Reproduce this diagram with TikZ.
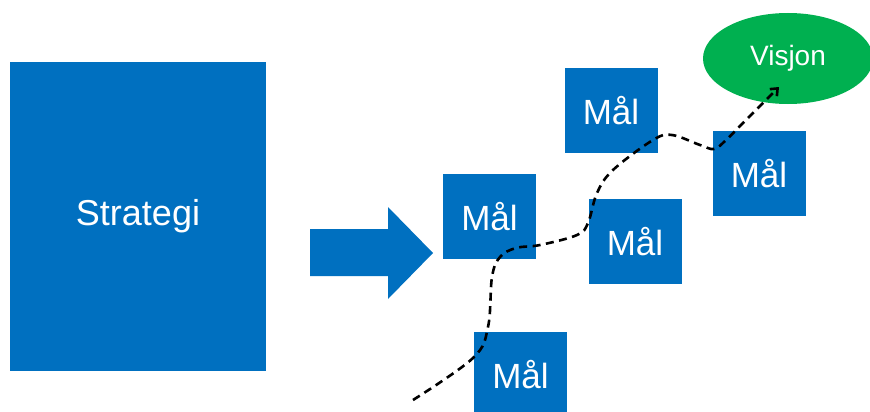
\documentclass[tikz,border=0pt]{standalone}
\usepackage{fontspec}
\setmainfont{Liberation Sans}
\usetikzlibrary{arrows.meta,shapes.geometric}
\definecolor{mblue}{HTML}{0070C0}
\definecolor{mgreen}{HTML}{00B050}
\begin{document}
\begin{tikzpicture}[x=1pt,y=-1pt,
  box/.style={fill=mblue,draw=none,minimum width=93pt,minimum height=85pt,inner sep=0pt,text=white,font=\fontsize{35}{40}\selectfont},
  curvepath/.style={black,line width=2.6pt,dash pattern=on 8pt off 5.5pt,-{Straight Barb[length=6pt,width=10pt]}}]
\useasboundingbox (0,0) rectangle (870,412);
\clip (0,0) rectangle (870,412);
\node[fill=mblue,minimum width=256pt,minimum height=309pt,inner sep=0pt,text=white,font=\fontsize{36}{40}\selectfont] (strat) at (138,216.5) {Strategi};
\fill[mblue] (310,229) -- (388,229) -- (388,207) -- (433,253) -- (388,299) -- (388,276) -- (310,276) -- cycle;
\node[box] (m1) at (489.5,216.5) {Mål};
\node[box] (m2) at (611,110.5) {Mål};
\node[box] (m3) at (635,241.5) {Mål};
\node[box] (m4) at (759,173.5) {Mål};
\node[box] (m5) at (520.5,374.5) {Mål};
\node[ellipse,fill=mgreen,minimum width=170pt,minimum height=91pt,inner sep=0pt,text=white,font=\fontsize{28}{30}\selectfont] (vis) at (788,58.5) {Visjon};
\coordinate (start) at (413,400);
\coordinate (tip) at (779,87);
\draw[curvepath] plot[smooth,tension=0.6] coordinates {(start) (473,358) (488,327) (492,277) (500,257) (516,248) (540,245) (577,235) (588,223) (597,193) (613,170) (653,140) (672,135) (700,145) (714,149) (725,141) (743,123) (tip)};
\end{tikzpicture}
\end{document}
